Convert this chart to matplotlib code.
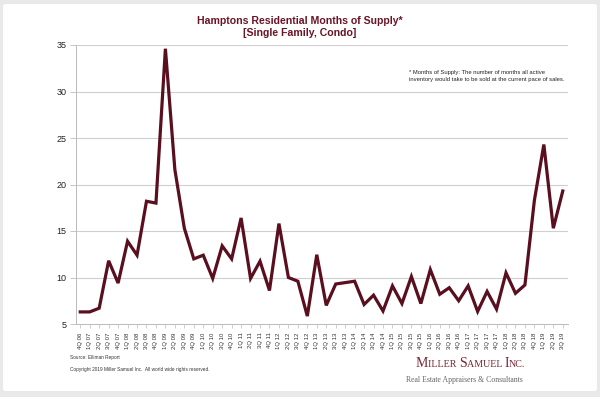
import matplotlib
matplotlib.use("Agg")
import matplotlib.pyplot as plt
from matplotlib.patches import FancyBboxPatch

# quarterly months of supply, 4Q 06 .. 3Q 19
quarters = ["4Q 06"]
for yr in range(7, 20):
    for q in range(1, 5):
        if yr == 19 and q == 4:
            break
        quarters.append("%dQ %02d" % (q, yr))

supply = [6.3, 6.3, 6.7, 11.8, 9.4, 13.9, 12.4, 18.2, 18.0, 34.6,
          21.6, 15.3, 12.0, 12.4, 9.9, 13.4, 12.0, 16.4, 9.9, 11.75,
          8.6, 15.8, 10.0, 9.6, 5.85, 12.45, 7.0, 9.3, 9.45, 9.6,
          7.1, 8.1, 6.4, 9.1, 7.2, 10.1, 7.2, 10.85, 8.2, 8.9,
          7.5, 9.1, 6.35, 8.5, 6.6, 10.5, 8.3, 9.2, 18.3, 24.3,
          15.3, 19.3]

y_ticks = [5, 10, 15, 20, 25, 30, 35]

maroon = "#5a0f1f"
W, H = 600, 397

plt.rcParams["font.family"] = ["Liberation Sans", "DejaVu Sans"]
fig = plt.figure(figsize=(6, 3.97), dpi=100)
fig.patch.set_facecolor("#e9e9e9")
frame = FancyBboxPatch((3 / W, 6 / H), 594 / W, 387 / H,
                       boxstyle="round,pad=0,rounding_size=0.006",
                       transform=fig.transFigure, facecolor="white",
                       edgecolor="none", zorder=-5)
fig.patches.append(frame)

ax = fig.add_axes([76 / W, 1 - 324 / H, (567.5 - 76) / W, (324 - 45) / H])
ax.set_zorder(2)
ax.set_facecolor("none")
x = list(range(len(quarters)))
ax.plot(x, supply, color=maroon, lw=2.3, solid_joinstyle="miter", zorder=3)

ax.set_xlim(-0.45, len(quarters) - 0.5)
ax.set_ylim(5, 35)
ax.set_yticks(y_ticks)
ax.set_yticklabels([str(v) for v in y_ticks], fontsize=6.5, color="#222222")
ax.set_xticks(x)
ax.set_xticklabels(quarters, rotation=90, fontsize=4.3, color="#333333")
ax.tick_params(axis="y", length=4, width=0.6, color="#bbbbbb", pad=3)
ax.tick_params(axis="x", length=3, width=0.5, color="#bbbbbb", pad=3)
ax.grid(axis="y", color="#cfcfcf", lw=0.8)
ax.set_axisbelow(True)
for s in ["top", "right"]:
    ax.spines[s].set_visible(False)
for s in ["left", "bottom"]:
    ax.spines[s].set_color("#bbbbbb")
    ax.spines[s].set_linewidth(0.7)

fig.text(0.5, 1 - 20.5 / H, "Hamptons Residential Months of Supply*",
         ha="center", va="center", fontsize=7.6, fontweight="bold", color="#6a1426")
fig.text(0.5, 1 - 33.5 / H, "[Single Family, Condo]",
         ha="center", va="center", fontsize=7.6, fontweight="bold", color="#6a1426")

fig.text(409 / W, 1 - 76 / H,
         "* Months of Supply: The number of months all active\n"
         "inventory would take to be sold at the current pace of sales.",
         ha="left", va="center", fontsize=4.2, color="#222222", linespacing=1.5)

fig.text(70 / W, 1 - 358 / H, "Source: Elliman Report",
         ha="left", va="center", fontsize=3.4, color="#333333")
fig.text(70 / W, 1 - 369 / H,
         "Copyright 2019 Miller Samuel Inc.  All world wide rights reserved.",
         ha="left", va="center", fontsize=3.4, color="#333333")

# logo in small caps, built from pieces
fig.canvas.draw()
renderer = fig.canvas.get_renderer()
pieces = [("M", 10), ("ILLER ", 7.2), ("S", 10), ("AMUEL ", 7.2),
          ("I", 10), ("NC.", 7.2)]
xpos = 416 / W
for txt, sz in pieces:
    t = fig.text(xpos, 1 - 367 / H, txt, ha="left", va="baseline",
                 fontsize=sz, family="Liberation Serif", color="#7a2535")
    bb = t.get_window_extent(renderer)
    xpos += bb.width / (W * fig.dpi / 100)

fig.text(523 / W, 1 - 380 / H, "Real Estate Appraisers & Consultants",
         ha="right", va="center", fontsize=5.6, family="Liberation Serif",
         color="#666666")

fig.savefig("out.png", dpi=100, facecolor=fig.get_facecolor())
